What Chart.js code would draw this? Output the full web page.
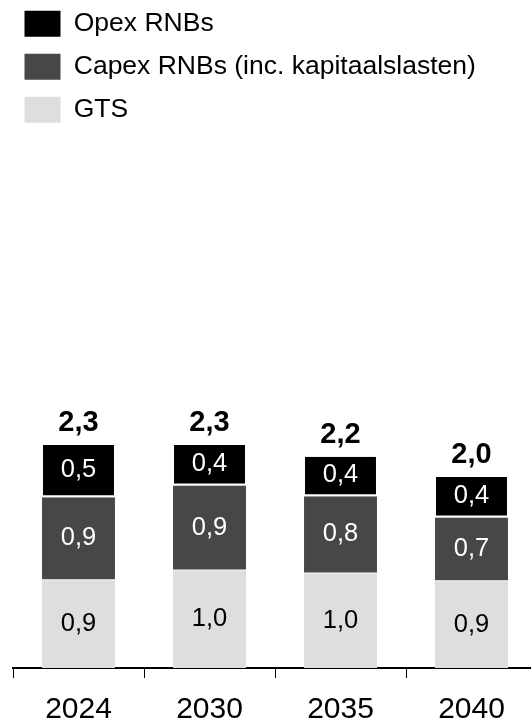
<!DOCTYPE html>
<html><head><meta charset="utf-8">
<script src="https://cdn.jsdelivr.net/npm/chart.js@4.4.0/dist/chart.umd.min.js"></script>
<style>html,body{margin:0;padding:0;background:#fff;overflow:hidden;}#wrap{position:relative;width:537px;height:724px;}</style>
</head><body><div id="wrap"><canvas id="c"></canvas></div>
<script>
const categories = ['2024', '2030', '2035', '2040'];
const gtsValues = [0.91, 1.01, 0.98, 0.90];
const capexValues = [0.86, 0.88, 0.80, 0.66];
const opexValues = [0.54, 0.42, 0.41, 0.42];
const seriesNames = ['GTS', 'Capex RNBs (inc. kapitaalslasten)', 'Opex RNBs'];

const FONT = '"Liberation Sans", Arial, Helvetica, sans-serif';
const fmt = v => (Math.round(v * 10) / 10).toFixed(1).replace('.', ',');

const labelPlugin = {
  id: 'barLabels',
  afterDatasetsDraw(chart) {
    const ctx = chart.ctx;
    ctx.save();
    ctx.textAlign = 'center';
    chart.data.datasets.forEach((ds, i) => {
      const meta = chart.getDatasetMeta(i);
      meta.data.forEach((bar, j) => {
        const yc = (bar.y + bar.base - (ds.bottomGap || 0)) / 2;
        ctx.font = '25.5px ' + FONT;
        ctx.fillStyle = ds.labelColor;
        ctx.textBaseline = 'middle';
        ctx.fillText(fmt(ds.data[j]), bar.x, yc);
      });
    });
    const ys = chart.scales.y;
    const top = chart.getDatasetMeta(2);
    categories.forEach((c, j) => {
      const total = gtsValues[j] + capexValues[j] + opexValues[j];
      const yp = ys.getPixelForValue(total);
      ctx.font = 'bold 29px ' + FONT;
      ctx.fillStyle = '#000';
      ctx.textBaseline = 'alphabetic';
      ctx.fillText(fmt(total), top.data[j].x, yp - 14);
    });
    ctx.restore();
  }
};

new Chart(document.getElementById('c'), {
  type: 'bar',
  data: {
    labels: categories,
    datasets: [
      { label: seriesNames[0], data: gtsValues, backgroundColor: '#dedede', borderWidth: 0, labelColor: '#000' },
      { label: seriesNames[1], data: capexValues, backgroundColor: '#474747', borderColor: '#ffffff',
        borderWidth: { top: 0, left: 0, right: 0, bottom: 1 }, borderSkipped: false, labelColor: '#fff', bottomGap: 1 },
      { label: seriesNames[2], data: opexValues, backgroundColor: '#000000', borderColor: '#ffffff',
        borderWidth: { top: 0, left: 1, right: 1, bottom: 2 }, borderSkipped: false, labelColor: '#fff', bottomGap: 2 }
    ]
  },
  options: {
    responsive: true,
    maintainAspectRatio: false,
    animation: false,
    devicePixelRatio: 1,
    layout: { padding: { left: 8, right: 0, top: -6, bottom: 0 } },
    datasets: { bar: { barPercentage: 0.557, categoryPercentage: 1 } },
    plugins: {
      tooltip: { enabled: false },
      legend: {
        position: 'top',
        align: 'start',
        reverse: true,
        labels: {
          boxWidth: 36,
          boxHeight: 26,
          padding: 16.5,
          color: '#000',
          font: { family: FONT, size: 26.5 },
          generateLabels(chart) {
            const items = Chart.defaults.plugins.legend.labels.generateLabels(chart);
            items.forEach(it => { it.lineWidth = 0; it.strokeStyle = 'rgba(0,0,0,0)'; });
            return items;
          }
        }
      }
    },
    scales: {
      x: {
        stacked: true,
        grid: { display: true, drawOnChartArea: false, drawTicks: true, tickLength: 10, color: '#000', lineWidth: 1, offset: true },
        border: { display: true, color: '#000', width: 2 },
        ticks: { color: '#000', padding: 17, font: { family: FONT, size: 30, lineHeight: 1 } },
        afterFit(scale) { scale.height = 56; }
      },
      y: {
        stacked: true,
        min: 0,
        max: 5.544,
        display: true,
        grid: { display: false, drawTicks: false },
        border: { display: false },
        ticks: { display: false },
        afterFit(scale) { scale.width = 5; }
      }
    }
  },
  plugins: [labelPlugin]
});
</script>
</body></html>
